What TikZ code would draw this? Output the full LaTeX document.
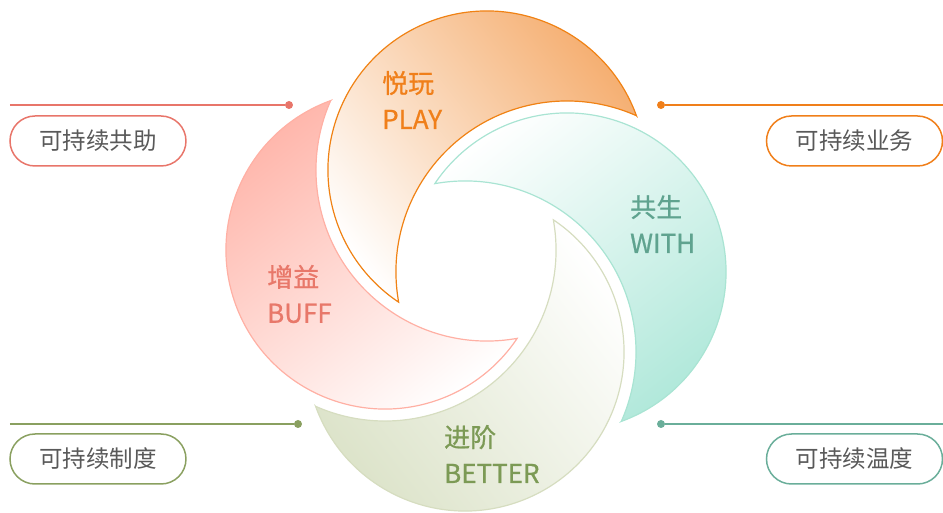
\documentclass[tikz,border=0pt]{standalone}
\usepackage{fontspec}
\setmainfont{Noto Sans CJK SC}
\newfontfamily\petalfont{Noto Sans CJK SC}[FakeBold=0.8]
\usetikzlibrary{positioning}
\definecolor{playline}{HTML}{F08214}
\definecolor{playfill}{HTML}{F5AE70}
\definecolor{playtext}{HTML}{F07F1A}
\definecolor{withline}{HTML}{A9E4D3}
\definecolor{withfill}{HTML}{B0E8DA}
\definecolor{withtext}{HTML}{5FA38F}
\definecolor{betterline}{HTML}{D6DDC0}
\definecolor{betterfill}{HTML}{DCE3C9}
\definecolor{bettertext}{HTML}{7C9A55}
\definecolor{buffline}{HTML}{FFB0A4}
\definecolor{bufffill}{HTML}{FFB6AB}
\definecolor{bufftext}{HTML}{E8786A}
\definecolor{tagred}{HTML}{E8756A}
\definecolor{tagorange}{HTML}{F07F1A}
\definecolor{tagolive}{HTML}{8AA060}
\definecolor{tagteal}{HTML}{6AAE9A}
\definecolor{tagtext}{HTML}{595959}
\tikzset{
  petal/.style={line width=1.2pt},
  petalname/.style={font=\petalfont\fontsize{26}{36}\selectfont, align=left, anchor=west, inner sep=0pt},
  tag/.style={draw, line width=1.5pt, rounded corners=25pt, minimum width=176pt,
    minimum height=50pt, text=tagtext, font=\fontsize{23.5}{23.5}\selectfont},
  dot/.style={circle, fill, inner sep=0pt, minimum size=8pt},
  lead/.style={line width=1.5pt}
}

\begin{document}
\begin{tikzpicture}[x=1pt, y=1pt]
        \useasboundingbox (-476,-252) rectangle (467,261);

        \draw[petal, draw=playline, top color=playfill, bottom color=white, shading angle=-52]
          (42.16:216.44pt) arc[start angle=19.95, end angle=236.26, radius=159pt]
          arc[start angle=190.18, end angle=66.04, radius=171pt] -- cycle;
        \draw[petal, draw=withline, top color=withfill, bottom color=white, shading angle=-142]
          (-47.84:216.44pt) arc[start angle=-70.05, end angle=146.26, radius=159pt]
          arc[start angle=100.18, end angle=-23.96, radius=171pt] -- cycle;
        \draw[petal, draw=betterline, top color=betterfill, bottom color=white, shading angle=128]
          (-137.84:216.44pt) arc[start angle=-160.05, end angle=56.26, radius=159pt]
          arc[start angle=10.18, end angle=-113.96, radius=171pt] -- cycle;
        \draw[petal, draw=buffline, top color=bufffill, bottom color=white, shading angle=38]
          (132.16:216.44pt) arc[start angle=109.95, end angle=326.26, radius=159pt]
          arc[start angle=280.18, end angle=156.04, radius=171pt] -- cycle;

        \node[petalname, text=playtext] (play) at (-94,161) {悦玩\\PLAY};
        \node[petalname, text=withtext] (with) at (154,37) {共生\\WITH};
        \node[petalname, text=bufftext] (buff) at (-209,-33) {增益\\BUFF};
        \node[petalname, text=bettertext] (better) at (-32,-193) {进阶\\BETTER};

        \coordinate (redend) at (-466,156);
        \coordinate (orangeend) at (467,156);
        \coordinate (oliveend) at (-466,-163);
        \coordinate (tealend) at (467,-163);
        \node[dot, fill=tagred] (reddot) at (-187,156) {};
        \node[dot, fill=tagorange] (orangedot) at (185,156) {};
        \node[dot, fill=tagolive] (olivedot) at (-178,-163) {};
        \node[dot, fill=tagteal] (tealdot) at (185,-163) {};
        \draw[lead, tagred] (redend) -- (reddot);
        \draw[lead, tagorange] (orangedot) -- (orangeend);
        \draw[lead, tagolive] (oliveend) -- (olivedot);
        \draw[lead, tagteal] (tealdot) -- (tealend);

        \node[tag, draw=tagred] (help) at (-378,120) {可持续共助};
        \node[tag, draw=tagorange] (business) at (378.5,120) {可持续业务};
        \node[tag, draw=tagolive] (system) at (-378,-198) {可持续制度};
        \node[tag, draw=tagteal] (warmth) at (378.5,-198) {可持续温度};
    \end{tikzpicture}
\end{document}
